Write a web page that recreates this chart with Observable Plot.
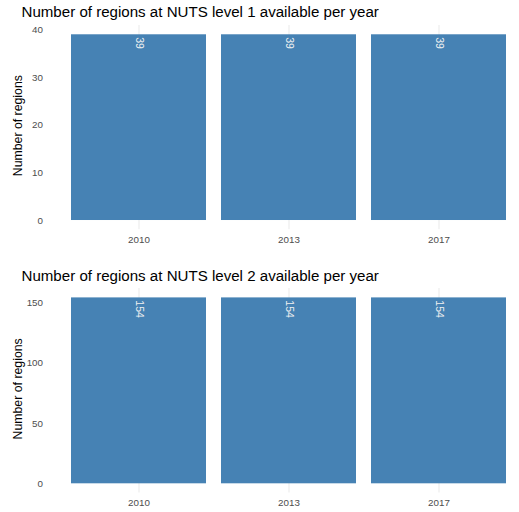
<!DOCTYPE html>
<html>
<head>
<meta charset="utf-8">
<script src="https://cdn.jsdelivr.net/npm/d3@7"></script>
<script src="https://cdn.jsdelivr.net/npm/@observablehq/plot@0.6"></script>
<style>
  html, body { margin: 0; padding: 0; background: #fff; overflow: hidden; }
  #wrap { width: 519px; height: 512px; overflow: hidden; }
  #wrap svg { display: block; }
</style>
</head>
<body>
<div id="wrap"></div>
<script>
const years = ["2010", "2013", "2017"];
const nuts1Counts = [39, 39, 39];
const nuts2Counts = [154, 154, 154];
const nuts1Ticks = [0, 10, 20, 30, 40];
const nuts1Minor = [5, 15, 25, 35];
const nuts2Ticks = [0, 50, 100, 150];
const nuts2Minor = [25, 75, 125];
const titles = [
  "Number of regions at NUTS level 1 available per year",
  "Number of regions at NUTS level 2 available per year"
];
const yLabel = "Number of regions";

const FONT = "'Liberation Sans', Arial, sans-serif";

function panel(values, ticks, minor, yDomain, marginTop, marginBottom, title, titleBaseline) {
  const data = years.map((y, i) => ({year: y, value: values[i]}));
  const H = 256;
  return Plot.plot({
    width: 519,
    height: H,
    marginLeft: 48,
    marginRight: 0,
    marginTop,
    marginBottom,
    style: {fontFamily: FONT, overflow: "hidden", background: "white"},
    x: {domain: years, range: [48, 528], paddingInner: 0.1, paddingOuter: 0.15, axis: null},
    y: {domain: yDomain, axis: null},
    marks: [
      Plot.ruleY(minor, {y: d => d, x1: 48, x2: 528, stroke: "#ebebeb", strokeWidth: 0.55}),
      Plot.ruleY(ticks, {y: d => d, x1: 48, x2: 528, stroke: "#ebebeb", strokeWidth: 1.1}),
      Plot.ruleX(years, {x: d => d, stroke: "#ebebeb", strokeWidth: 1.1}),
      Plot.barY(data, {x: "year", y: "value", fill: "#4682b4"}),
      Plot.text(data, {x: "year", y: "value", text: d => String(d.value), rotate: 90, textAnchor: "start", dy: 2.4, dx: 0.8, fill: "#f2f2f2", fontSize: 10.5}),
      Plot.text(ticks, {y: d => d, text: d => String(d), frameAnchor: "left", textAnchor: "end", dx: -5.5, fill: "#4d4d4d", fontSize: 9.8}),
      Plot.text(years, {x: d => d, text: d => d, frameAnchor: "bottom", dy: 9.7, lineAnchor: "middle", fill: "#4d4d4d", fontSize: 9.8}),
      Plot.text([yLabel], {text: d => d, frameAnchor: "left", dx: -30.5, dy: -2, rotate: -90, textAnchor: "middle", fill: "black", fontSize: 12.3}),
      Plot.text([title], {text: d => d, frameAnchor: "top-left", dx: -27, dy: titleBaseline - marginTop, lineAnchor: "bottom", textAnchor: "start", fill: "black", fontSize: 15.1})
    ]
  });
}

const wrap = document.getElementById("wrap");
wrap.appendChild(panel(nuts1Counts, nuts1Ticks, nuts1Minor, [-1.95, 40.95], 25, 26.7, titles[0], 16.7));
wrap.appendChild(panel(nuts2Counts, nuts2Ticks, nuts2Minor, [-7.7, 161.7], 32.1, 19.4, titles[1], 24));
</script>
</body>
</html>
